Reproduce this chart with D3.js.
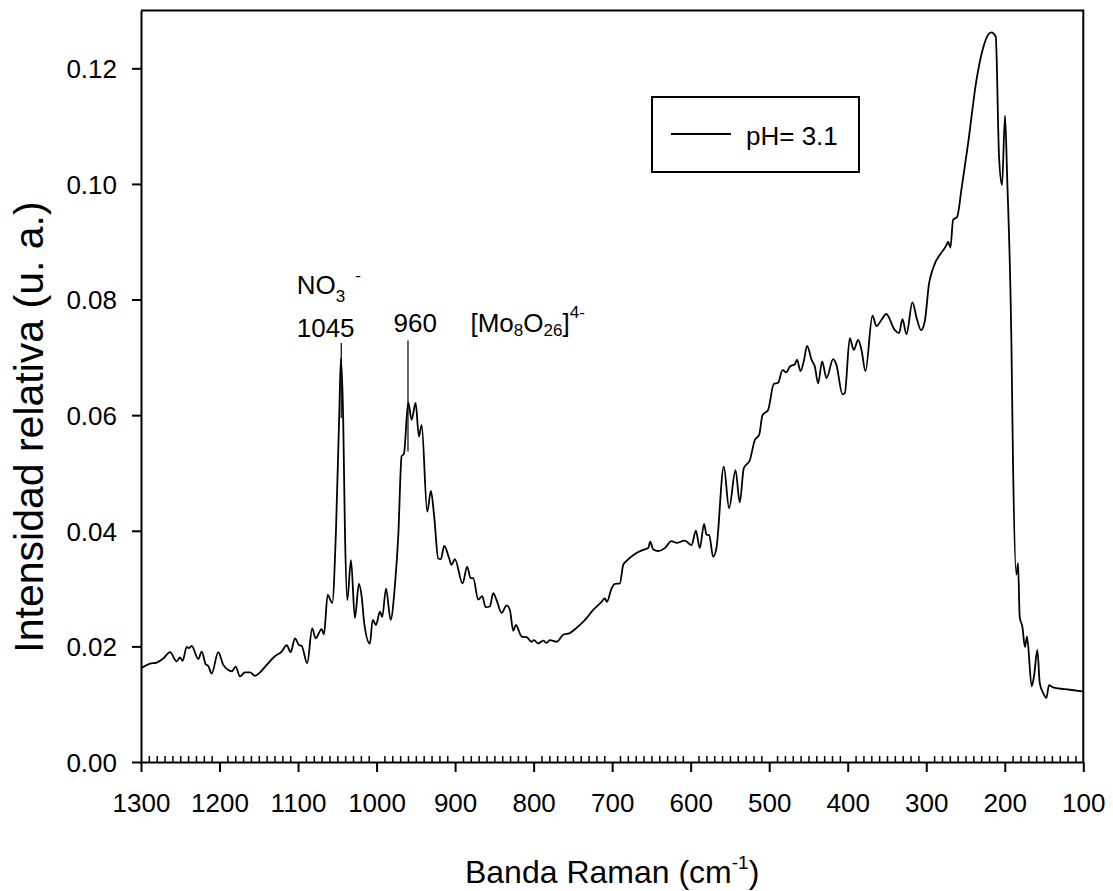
<!DOCTYPE html>
<html>
<head>
<meta charset="utf-8">
<script src="https://cdn.jsdelivr.net/npm/d3@7"></script>
<style>
   body { margin: 0; background: #fff; }
   svg { font-family: "Liberation Sans", Arial, sans-serif; }
</style>
</head>
<body>
<svg width="1113" height="891"></svg>
<script>
'use strict';

// Raman shift (cm-1), from 1300 down to 100
const ramanShift = [
   1300, 1288.5, 1280, 1271.6, 1263, 1254.6, 1250.4, 1247, 1241.8, 1238.9, 1235.5, 1227,
   1222.7, 1217.6, 1214.3, 1210, 1201.6, 1195.2, 1189.6, 1184.5, 1179.4, 1174, 1167.6, 1161.2,
   1154.9, 1148.5, 1140, 1129.4, 1120.9, 1114.5, 1109.4, 1104, 1098.5, 1095.5, 1088.3, 1082,
   1077.6, 1070, 1067, 1062.3, 1056.5, 1051.7, 1047.5, 1045.4, 1042.5, 1040.3, 1037.3, 1032.6,
   1027.6, 1022.5, 1019, 1015.7, 1008.5, 1005, 1000.8, 995.7, 992.8, 988, 982.1, 976.6,
   972.4, 968.1, 965.2, 959.7, 955.4, 950.3, 946.1, 942.6, 935.5, 930.8, 926.6, 921.5,
   918.1, 913.9, 907.5, 904.5, 900.3, 890.5, 884.6, 880.3, 876.9, 870.6, 865.5, 861.2,
   855.7, 851.5, 847.2, 840.8, 834.4, 830.2, 826, 822.6, 815.3, 808.9, 802.6, 799.7,
   794.2, 787.8, 783.5, 779.3, 770.8, 762.4, 753.9, 745.3, 738, 732.6, 724.2, 713.5,
   709.3, 706.7, 700.8, 696.6, 690.2, 685.9, 681.6, 671, 660.5, 654.1, 651.5, 647.8,
   641.4, 632.9, 624.4, 618, 607.5, 598.9, 593.4, 588.4, 582.9, 579.8, 576.5, 571.4,
   567.2, 557.8, 551.1, 542.9, 537.5, 532.4, 524.7, 518.3, 512.8, 508.5, 501.4, 494.2,
   488.7, 483.1, 478, 473.8, 467.4, 464.5, 460.2, 456, 451.7, 446.1, 441.9, 437.7,
   432.6, 427, 418.6, 414.4, 406.7, 403.7, 397.4, 392.3, 386.8, 382.5, 377.4, 368.5,
   363.4, 357, 351, 340, 334.6, 330.3, 325.2, 317.6, 311.7, 306.6, 301.9, 296.4,
   291.3, 274.3, 272.2, 269.2, 265.8, 260.7, 255.2, 246.7, 236, 227.6, 221.2, 217,
   211.5, 207.3, 203.5, 199.7, 197, 191.6, 189.5, 185.2, 183.1, 181, 177.6, 174.3,
   171.7, 165.7, 162.8, 158.5, 155.5, 151.3, 147, 143.7, 138.6, 117, 100
]

// relative intensity (u. a.), pH = 3.1
const intensity = [
   0.0162, 0.0170, 0.0172, 0.0179, 0.0190, 0.0174, 0.0181, 0.0175, 0.0199, 0.0197, 0.0201, 0.0178,
   0.0191, 0.0169, 0.0166, 0.0153, 0.0190, 0.0168, 0.0160, 0.0157, 0.0165, 0.0148, 0.0155, 0.0155,
   0.0149, 0.0155, 0.0168, 0.0183, 0.0191, 0.0202, 0.0190, 0.0214, 0.0202, 0.0201, 0.0171, 0.0231,
   0.0214, 0.0230, 0.0221, 0.0289, 0.0275, 0.0401, 0.0603, 0.0698, 0.0592, 0.0401, 0.0280, 0.0349,
   0.0249, 0.0308, 0.0286, 0.0240, 0.0205, 0.0246, 0.0237, 0.0260, 0.0251, 0.0300, 0.0246, 0.0306,
   0.0390, 0.0529, 0.0533, 0.0622, 0.0592, 0.0621, 0.0563, 0.0583, 0.0433, 0.0469, 0.0424, 0.0352,
   0.0351, 0.0374, 0.0352, 0.0341, 0.0351, 0.0309, 0.0338, 0.0318, 0.0318, 0.0281, 0.0287, 0.0268,
   0.0269, 0.0292, 0.0280, 0.0258, 0.0271, 0.0263, 0.0227, 0.0237, 0.0217, 0.0216, 0.0208, 0.0211,
   0.0205, 0.0210, 0.0206, 0.0211, 0.0208, 0.0220, 0.0223, 0.0232, 0.0241, 0.0249, 0.0263, 0.0277,
   0.0283, 0.0277, 0.0300, 0.0308, 0.0309, 0.0341, 0.0348, 0.0360, 0.0367, 0.0370, 0.0381, 0.0368,
   0.0365, 0.0370, 0.0382, 0.0379, 0.0383, 0.0375, 0.0400, 0.0370, 0.0412, 0.0393, 0.0393, 0.0355,
   0.0370, 0.0511, 0.0439, 0.0505, 0.0449, 0.0508, 0.0522, 0.0557, 0.0566, 0.0600, 0.0609, 0.0654,
   0.0656, 0.0678, 0.0674, 0.0684, 0.0688, 0.0696, 0.0676, 0.0693, 0.0720, 0.0696, 0.0684, 0.0655,
   0.0693, 0.0664, 0.0697, 0.0687, 0.0636, 0.0638, 0.0733, 0.0713, 0.0730, 0.0713, 0.0676, 0.0772,
   0.0754, 0.0765, 0.0775, 0.0747, 0.0742, 0.0766, 0.0740, 0.0795, 0.0765, 0.0747, 0.0762, 0.0828,
   0.0854, 0.0894, 0.0900, 0.0890, 0.0938, 0.0943, 0.0990, 0.1070, 0.1180, 0.1235, 0.1258, 0.1262,
   0.1255, 0.1047, 0.0998, 0.1118, 0.1013, 0.0730, 0.0517, 0.0324, 0.0344, 0.0251, 0.0234, 0.0199,
   0.0217, 0.0131, 0.0148, 0.0194, 0.0137, 0.0120, 0.0111, 0.0133, 0.0129, 0.0125, 0.0122
]

// marked bands: drop lines from label down into the peak
const bandPos = [1045, 960]
const bandTop = [0.0725, 0.0729]
const bandBottom = [0.0595, 0.0537]

const xTicks = [1300, 1200, 1100, 1000, 900, 800, 700, 600, 500, 400, 300, 200, 100]
const yTicks = [0, 0.02, 0.04, 0.06, 0.08, 0.10, 0.12]
const seriesName = "pH= 3.1"

document.addEventListener('DOMContentLoaded', function () {
   drawChart()
})

function drawChart() {
   const data = ramanShift.map((v, i) => ({ x: v, y: intensity[i] }))

   const svg = d3.select("svg")
   const pLeft = 141, pRight = 1083.3, pTop = 10.5, pBottom = 762

   let x = d3.scaleLinear().domain([1300, 100]).range([pLeft, pRight])
   let y = d3.scaleLinear().domain([0, 0.13]).range([pBottom, pTop])

   // frame (top + right)
   svg.append("path")
      .attr("d", `M${pLeft},${pTop}H${pRight}V${pBottom}`)
      .attr("fill", "none")
      .attr("stroke", "black")
      .attr("stroke-width", 2)

   // minor x ticks, pointing inwards
   let minor = d3.range(100, 1301, 10).filter(d => d % 100 !== 0)
   svg.append("g")
      .attr("transform", `translate(0,${pBottom})`)
      .call(d3.axisBottom(x).tickValues(minor).tickSize(-6).tickSizeOuter(0).tickFormat(""))
      .call(g => g.select(".domain").remove())
      .call(g => g.selectAll("line").attr("stroke-width", 1.5))

   // major x axis
   svg.append("g")
      .attr("transform", `translate(0,${pBottom})`)
      .call(d3.axisBottom(x).tickValues(xTicks).tickSize(10).tickSizeOuter(0).tickPadding(22).tickFormat(d3.format("d")))
      .call(g => g.select(".domain").attr("stroke-width", 2))
      .call(g => g.selectAll("line").attr("stroke-width", 2))
      .call(g => g.selectAll("text").attr("font-size", 26).attr("fill", "black").attr("font-family", null))

   // y axis
   svg.append("g")
      .attr("transform", `translate(${pLeft},0)`)
      .call(d3.axisLeft(y).tickValues(yTicks).tickSize(9).tickSizeOuter(0).tickPadding(15).tickFormat(d3.format(".2f")))
      .call(g => g.select(".domain").attr("stroke-width", 2))
      .call(g => g.selectAll("line").attr("stroke-width", 2))
      .call(g => g.selectAll("text").attr("font-size", 26).attr("fill", "black").attr("font-family", null).attr("dy", "0.36em"))

   // spectrum
   let line = d3.line()
      .x(d => x(d.x))
      .y(d => y(d.y))
      .curve(d3.curveMonotoneX)

   svg.append("path")
      .datum(data)
      .attr("d", line)
      .attr("fill", "none")
      .attr("stroke", "black")
      .attr("stroke-width", 1.8)
      .attr("stroke-linejoin", "round")

   // band drop lines
   svg.selectAll("line.band")
      .data(bandPos)
      .enter()
      .append("line")
      .attr("class", "band")
      .attr("x1", d => x(d))
      .attr("x2", d => x(d))
      .attr("y1", (d, i) => y(bandTop[i]))
      .attr("y2", (d, i) => y(bandBottom[i]))
      .attr("stroke", "black")
      .attr("stroke-width", 1.2)

   // labels
   let no3 = svg.append("text")
      .attr("x", x(1045) - 44.5)
      .attr("y", 293.5)
      .attr("font-size", 26)
   no3.append("tspan").text("NO")
   no3.append("tspan").attr("font-size", 17).attr("dy", 8).text("3")
   no3.append("tspan").attr("font-size", 17).attr("dx", 10).attr("dy", -21).text("-")

   svg.append("text")
      .attr("x", x(1045) - 44.5)
      .attr("y", 336.5)
      .attr("font-size", 26)
      .text("1045")

   svg.append("text")
      .attr("x", x(960) - 14.5)
      .attr("y", 331.5)
      .attr("font-size", 26)
      .text("960")

   let mo = svg.append("text")
      .attr("x", x(960) + 62.5)
      .attr("y", 331.5)
      .attr("font-size", 26)
   mo.append("tspan").text("[Mo")
   mo.append("tspan").attr("font-size", 17).attr("dy", 4).text("8")
   mo.append("tspan").attr("dy", -4).text("O")
   mo.append("tspan").attr("font-size", 17).attr("dy", 4).text("26")
   mo.append("tspan").attr("dy", -4).text("]")
   mo.append("tspan").attr("font-size", 17).attr("dy", -14).text("4-")

   // legend
   let legend = svg.append("g")
   legend.append("rect")
      .attr("x", 652).attr("y", 97)
      .attr("width", 207).attr("height", 75)
      .attr("fill", "white")
      .attr("stroke", "black")
      .attr("stroke-width", 2)
   legend.append("line")
      .attr("x1", 671).attr("x2", 731)
      .attr("y1", 134).attr("y2", 134)
      .attr("stroke", "black")
      .attr("stroke-width", 1.8)
   legend.append("text")
      .attr("x", 746).attr("y", 145)
      .attr("font-size", 26)
      .text(seriesName)

   // axis titles
   let xTitle = svg.append("text")
      .attr("x", (pLeft + pRight) / 2)
      .attr("y", 882.5)
      .attr("text-anchor", "middle")
      .attr("font-size", 32)
   xTitle.append("tspan").text("Banda Raman (cm")
   xTitle.append("tspan").attr("font-size", 19).attr("dy", -14).text("-1")
   xTitle.append("tspan").attr("dy", 14).text(")")

   svg.append("text")
      .attr("transform", "translate(43,427) rotate(-90)")
      .attr("text-anchor", "middle")
      .attr("font-size", 41)
      .text("Intensidad relativa (u. a.)")
}
</script>
</body>
</html>
